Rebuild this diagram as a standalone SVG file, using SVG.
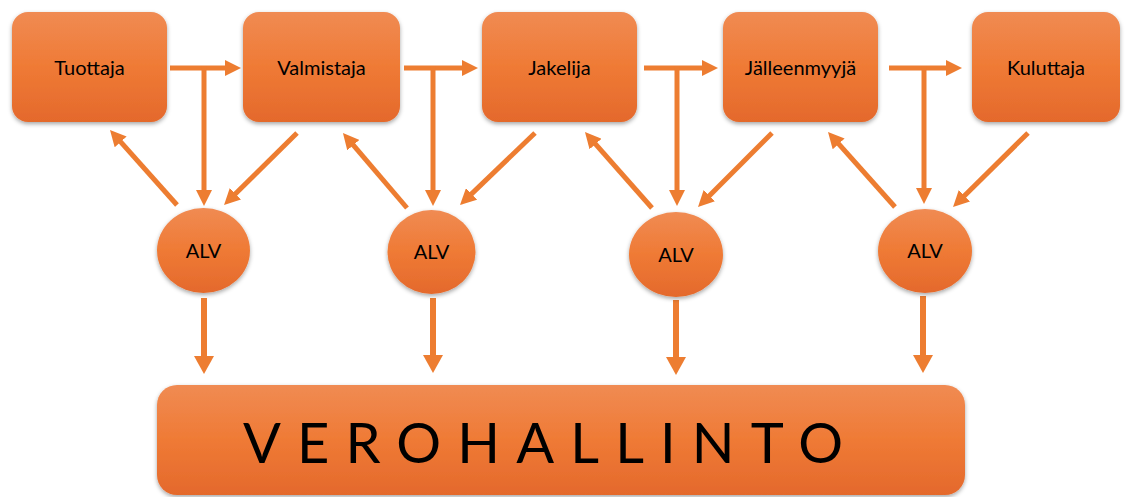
<svg xmlns="http://www.w3.org/2000/svg" width="1128" height="497" viewBox="0 0 1128 497">
<defs>
<linearGradient id="g" x1="0" y1="0" x2="0" y2="1">
<stop offset="0" stop-color="#F08B53"/>
<stop offset="0.5" stop-color="#EF7A35"/>
<stop offset="1" stop-color="#E4692C"/>
</linearGradient>
<filter id="sh" x="-10%" y="-10%" width="120%" height="130%">
<feDropShadow dx="0" dy="2" stdDeviation="2" flood-color="#000" flood-opacity="0.35"/>
</filter>
<marker id="ah" markerUnits="userSpaceOnUse" markerWidth="16" markerHeight="16" viewBox="0 0 16 16" refX="1" refY="8" orient="auto">
<path d="M0,0 L16,8 L0,16 z" fill="#ED7D31"/>
</marker>
<marker id="ahb" markerUnits="userSpaceOnUse" markerWidth="18" markerHeight="20" viewBox="0 0 18 20" refX="1" refY="10" orient="auto">
<path d="M0,0 L18,10 L0,20 z" fill="#ED7D31"/>
</marker>
</defs>
<style>
.box{fill:url(#g);filter:url(#sh);}
.lbl{font-family:Lato,"Open Sans",sans-serif;font-size:20px;fill:#000;text-anchor:middle;}
.alv{font-family:Lato,"Open Sans",sans-serif;font-size:20px;fill:#000;text-anchor:middle;}
.a{stroke:#ED7D31;stroke-width:5;fill:none;marker-end:url(#ah);}
.ab{stroke:#ED7D31;stroke-width:6;fill:none;marker-end:url(#ahb);}
.big{font-family:Lato,"Open Sans",sans-serif;font-size:56px;fill:#000;text-anchor:middle;}
</style>
<g id="connectors">
<line class="a" x1="170" y1="68" x2="226" y2="68"/>
<line class="a" x1="404" y1="68" x2="463" y2="68"/>
<line class="a" x1="644" y1="68" x2="703" y2="68"/>
<line class="a" x1="889" y1="68" x2="947" y2="68"/>
<line class="a" x1="204" y1="66" x2="204" y2="191"/>
<line class="a" x1="433" y1="66" x2="433" y2="191"/>
<line class="a" x1="677" y1="66" x2="677" y2="191"/>
<line class="a" x1="924" y1="66" x2="924" y2="189"/>
<line class="a" x1="177" y1="205" x2="120" y2="141.2"/>
<line class="a" x1="297" y1="133" x2="234.7" y2="194.5"/>
<line class="a" x1="407" y1="208" x2="352.7" y2="144.4"/>
<line class="a" x1="535" y1="133" x2="470.8" y2="194.6"/>
<line class="a" x1="652" y1="208" x2="594.9" y2="143.3"/>
<line class="a" x1="772" y1="133" x2="708.6" y2="196.4"/>
<line class="a" x1="895" y1="207" x2="838" y2="143.2"/>
<line class="a" x1="1028" y1="133" x2="963.7" y2="196.5"/>
<line class="ab" x1="204" y1="298" x2="204" y2="357"/>
<line class="ab" x1="433" y1="298" x2="433" y2="356"/>
<line class="ab" x1="676" y1="300" x2="676" y2="358"/>
<line class="ab" x1="923" y1="296" x2="923" y2="356"/>
</g>
<g id="tuottaja"><rect class="box" x="12" y="12" width="155" height="110" rx="16"/><text class="lbl" x="89.5" y="75">Tuottaja</text></g>
<g id="valmistaja"><rect class="box" x="243" y="12" width="157" height="110" rx="16"/><text class="lbl" x="321.5" y="75">Valmistaja</text></g>
<g id="jakelija"><rect class="box" x="482" y="12" width="155" height="110" rx="16"/><text class="lbl" x="559.5" y="75">Jakelija</text></g>
<g id="jalleenmyyja"><rect class="box" x="723" y="12" width="155" height="110" rx="16"/><text class="lbl" x="800.5" y="75">Jälleenmyyjä</text></g>
<g id="kuluttaja"><rect class="box" x="972" y="12" width="148" height="110" rx="16"/><text class="lbl" x="1046" y="75">Kuluttaja</text></g>
<g id="alv1"><ellipse class="box" cx="203.5" cy="250.5" rx="46.5" ry="42.5"/><text class="alv" x="203.5" y="258">ALV</text></g>
<g id="alv2"><ellipse class="box" cx="431.5" cy="252" rx="44" ry="42"/><text class="alv" x="431.5" y="259">ALV</text></g>
<g id="alv3"><ellipse class="box" cx="676" cy="254.5" rx="47" ry="42.5"/><text class="alv" x="676" y="262">ALV</text></g>
<g id="alv4"><ellipse class="box" cx="925" cy="251" rx="47" ry="42"/><text class="alv" x="925" y="258">ALV</text></g>
<g id="verohallinto"><rect class="box" x="157" y="385" width="808" height="110" rx="20"/><text class="big" x="543" y="463" textLength="600" lengthAdjust="spacing">VEROHALLINTO</text></g>
</svg>
